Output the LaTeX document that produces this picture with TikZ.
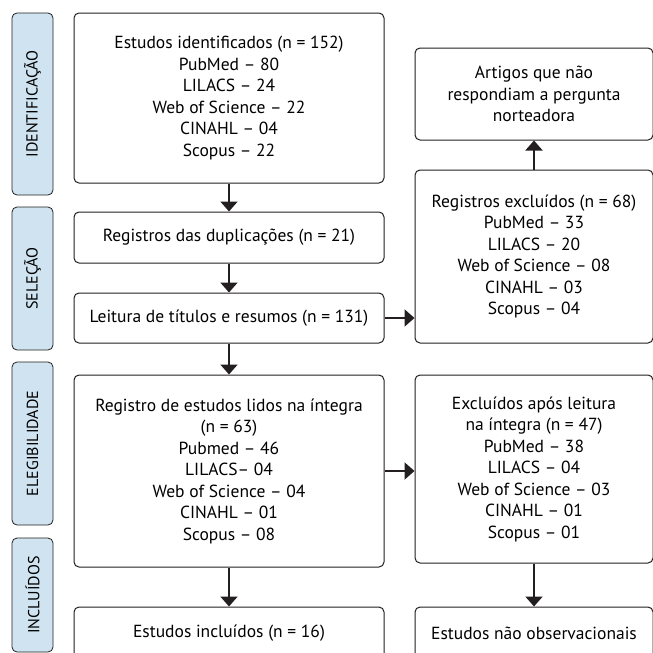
\documentclass[tikz,border=0pt]{standalone}
\usepackage{fontspec}
\setmainfont{PT Sans}
\usetikzlibrary{arrows.meta}
\definecolor{phaseblue}{RGB}{207,228,240}
\definecolor{inkgray}{RGB}{35,31,32}
\begin{document}
\begin{tikzpicture}
        [
          x=1pt, y=-1pt,
          phase/.style={draw=inkgray, line width=0.8pt, fill=phaseblue, rounded corners=5pt,
            rotate=90, minimum width=#1, minimum height=41pt, inner sep=0pt,
            font=\fontsize{16}{21}\selectfont},
          mainbox/.style={draw=inkgray, line width=1pt, rounded corners=5pt, align=center,
            minimum width=310pt, minimum height=#1, inner sep=0pt,
            font=\fontsize{17.5}{21.5}\selectfont},
          sidebox/.style={mainbox=#1, minimum width=238pt},
          flow/.style={line width=2pt, inkgray, -{Triangle[width=17pt,length=10pt]}}
        ]
        \useasboundingbox (0,0) rectangle (653,653);
        \clip (0,0) rectangle (653,653);
        % phases
        \node [phase=182pt] (ident) at (32.5,104) {IDENTIFICAÇÃO};
        \node [phase=143pt] (selec) at (32.5,278.5) {SELEÇÃO};
        \node [phase=163pt] (eleg) at (32.5,443.5) {ELEGIBILIDADE};
        \node [phase=114pt] (incl) at (32.5,595) {INCLUÍDOS};
        % main column
        \node [mainbox=170pt] (ident1) at (229,98)
          {Estudos identificados (n = 152)\\PubMed – 80\\LILACS – 24\\Web of Science – 22\\CINAHL – 04\\Scopus – 22};
        \node [mainbox=51pt] (dupl) at (229,237.5) {Registros das duplicações (n = 21)};
        \node [mainbox=50pt] (leit) at (229,318) {Leitura de títulos e resumos (n = 131)};
        \node [mainbox=192pt] (integ) at (229,471)
          {Registro de estudos lidos na íntegra\\(n = 63)\\Pubmed – 46\\LILACS– 04\\Web of Science – 04\\CINAHL – 01\\Scopus – 08};
        \node [mainbox=52pt] (incl1) at (229,633) {Estudos incluídos (n = 16)};
        % right column
        \node [sidebox=92pt] (norte) at (534,94)
          {Artigos que não\\respondiam a pergunta\\norteadora};
        \node [sidebox=173pt] (excl) at (534,256.5)
          {Registros excluídos (n = 68)\\PubMed – 33\\LILACS – 20\\Web of Science – 08\\CINAHL – 03\\Scopus – 04};
        \node [sidebox=188pt] (excl2) at (534,469)
          {Excluídos após leitura\\na íntegra (n = 47)\\PubMed – 38\\LILACS – 04\\Web of Science – 03\\CINAHL – 01\\Scopus – 01};
        \node [sidebox=52pt] (naoobs) at (534,633) {Estudos não observacionais};
        % arrows
        \draw [flow] (ident1) -- (dupl);
        \draw [flow] (dupl) -- (leit);
        \draw [flow] (leit) -- (integ);
        \draw [flow] (integ) -- (incl1);
        \draw [flow] (leit.east) -- (leit.east -| excl.west);
        \draw [flow] (integ.east) -- (integ.east -| excl2.west);
        \draw [flow] (excl) -- (norte);
        \draw [flow] (excl2) -- (naoobs);
\end{tikzpicture}
\end{document}
